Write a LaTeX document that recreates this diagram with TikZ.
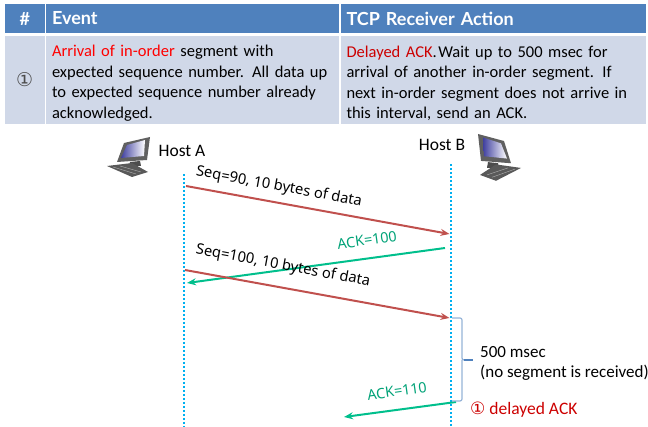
\documentclass[tikz,border=0pt]{standalone}
\usepackage{fontspec}
\usepackage{xcolor}
\setmainfont{Carlito}
\newfontfamily\headfont{Lato}
\newfontfamily\labelfont{Noto Sans}
\newfontfamily\symbolfont{DejaVu Sans}
\usetikzlibrary{arrows.meta, positioning}

\definecolor{headblue}{HTML}{4F81BD}
\definecolor{rowblue}{HTML}{D0D8E8}
\definecolor{segred}{HTML}{C0504D}
\definecolor{ackgreen}{HTML}{00BF8C}
\definecolor{linecyan}{HTML}{00B0F0}
\definecolor{bracelight}{HTML}{95B3D7}

\begin{document}
\begin{tikzpicture}[
        x=1pt, y=-1pt,
        node distance=3pt,
        head/.style={rectangle, fill=headblue, text=white, font=\headfont\fontsize{18}{20}\selectfont\bfseries, minimum height=29pt, inner sep=0pt, inner xsep=6pt, outer sep=0pt, align=left, anchor=west},
        cell/.style={rectangle, fill=rowblue, text=black, font=\fontsize{16.5}{20.5}\selectfont, minimum height=88pt, inner sep=0pt, inner xsep=6pt, outer sep=0pt, align=left},
        lifeline/.style={linecyan, line width=2pt, dash pattern=on 2pt off 2pt},
        arrow/.style={line width=2pt,-{Stealth[length=9pt,width=7pt]}},
        seqarrow/.style={arrow, segred},
        ackarrow/.style={arrow, ackgreen},
        seqlabel/.style={font=\labelfont\fontsize{14.7}{17}\selectfont, rotate=-10.5, inner sep=0pt},
        acklabel/.style={font=\labelfont\fontsize{14.4}{17}\selectfont, text=ackgreen!85!black, rotate=8, inner sep=0pt},
        hostlabel/.style={font=\fontsize{17.5}{20}\selectfont, inner sep=0pt},
        note/.style={font=\fontsize{17}{20}\selectfont, inner sep=0pt, anchor=west},
        hostpc/.pic={
            \fill[gray!75!black] (0,0) -- (-26,6) -- (-33,25) -- (-3,23) -- cycle;
            \shade[left color=blue!50!black!75, right color=white] (-5,3) -- (-23,8) -- (-29,21) -- (-6,19) -- cycle;
            \fill[black!70] (-20,25) -- (-10,24) -- (-9,29) -- (-21,29) -- cycle;
            \fill[black!65] (-43,29) -- (-18,26) -- (-2,35) -- (-18,40) -- cycle;
            \draw[white!70!black, line width=.4pt] (-37,30) -- (-14,37) (-30,29) -- (-9,35);
        }
    ]
    \useasboundingbox (0,0) rectangle (648,427);

    % Table header
    \node[head, text width=39.5pt-12pt, align=center] (numhead) at (5,18.5) {\#};
    \node[head, text width=293pt-12pt, right=1.5pt of numhead] (eventhead) {Event};
    \node[head, text width=305pt-12pt, right=1.5pt of eventhead] (actionhead) {TCP Receiver Action};

    % Table row
    \node[cell, text width=39.5pt-12pt, align=center, below=3pt of numhead] (numcell) {\symbolfont\fontsize{19}{20}\selectfont\textcolor{black!70}{①}};
    \node[cell, text width=293pt-12pt, right=1.5pt of numcell] (eventcell) {\rule{0pt}{18pt}\textcolor{red}{Arrival of in-order} segment with\\expected sequence number. All data up\\to expected sequence number already\\acknowledged.};
    \node[cell, text width=305pt-12pt, right=1.5pt of eventcell] (actioncell) {\rule{0pt}{18pt}\textcolor{red!80!black}{Delayed ACK}.\hspace{1.5pt}Wait up to 500 msec for\\arrival of another in-order segment. If\\next in-order segment does not arrive in\\this interval, send an ACK.};

    % Hosts
    \pic (hosta) at (150,137) {hostpc};
    \pic[xscale=-1, yscale=1.17] (hostb) at (478,134) {hostpc};
    \node[hostlabel] (hostalabel) at (182,151) {Host A};
    \node[hostlabel] (hostblabel) at (442,145) {Host B};

    % Lifelines
    \coordinate (atop) at (184,174);
    \coordinate (abot) at (184,427);
    \coordinate (btop) at (451,164);
    \coordinate (bbot) at (451,427);
    \draw[lifeline] (atop) -- (abot);
    \draw[lifeline] (btop) -- (bbot);

    % Segment ends
    \coordinate (seqastart) at (186,186);
    \coordinate (seqaend) at (449.5,234);
    \coordinate (ackastart) at (445,248);
    \coordinate (ackaend) at (187,283);
    \coordinate (seqbstart) at (185,270);
    \coordinate (seqbend) at (449.5,318);
    \coordinate (ackbstart) at (456,402);
    \coordinate (ackbend) at (344,417);

    % Connections
    \draw[seqarrow] (seqastart) -- (seqaend);
    \draw[ackarrow] (ackastart) -- (ackaend);
    \draw[seqarrow] (seqbstart) -- (seqbend);
    \draw[ackarrow] (ackbstart) -- (ackbend);

    % Arrow labels
    \node[seqlabel] (seqalabel) at (279,187) {Seq=90, 10 bytes of data};
    \node[acklabel] (ackalabel) at (367,240) {ACK=100};
    \node[seqlabel] (seqblabel) at (283,266) {Seq=100, 10 bytes of data};
    \node[acklabel] (ackblabel) at (397,391) {ACK=110};

    % Timer brace
    \coordinate (bracetop) at (452,318);
    \coordinate (bracebot) at (452,401);
    \coordinate (bracetip) at (473,360);
    \draw[bracelight, line width=1.2pt, rounded corners=2pt] (bracetop) -- (462,318) -- (462,360) -- (465,360) (462,360) -- (462,401) -- (bracebot);
    \draw[headblue, line width=1.2pt] (464,360) -- (bracetip);

    % Notes
    \node[note] (timernote) at (480,352) {500 msec};
    \node[note] (silencenote) at (480,373) {(no segment is received)};
    \node[note, text=red!80!black, font=\fontsize{17.5}{20}\selectfont] (delaynote) at (470,410) {{\symbolfont\fontsize{17}{20}\selectfont ①}\hspace{4pt}delayed ACK};
\end{tikzpicture}
\end{document}
